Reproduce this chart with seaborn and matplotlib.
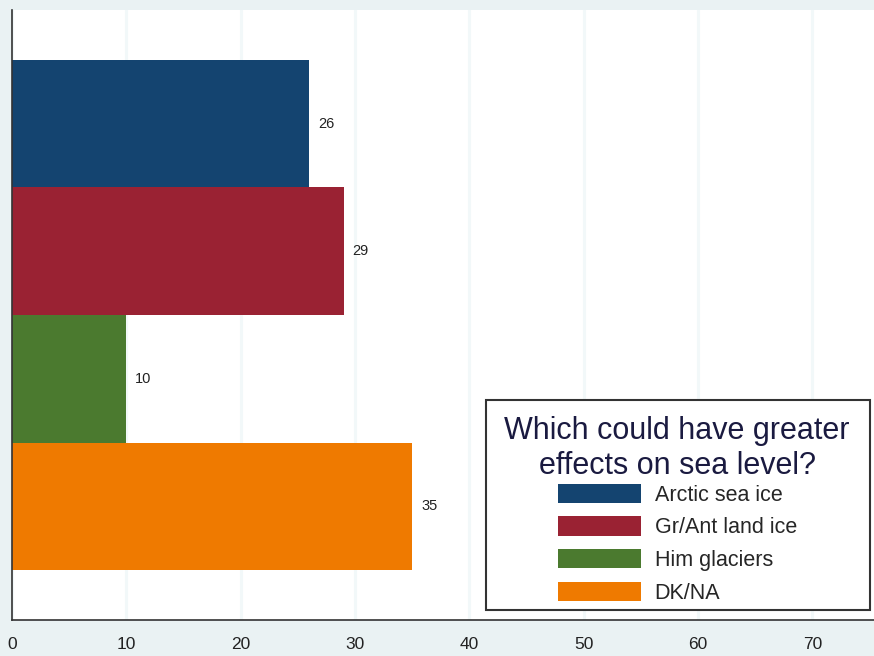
import matplotlib
matplotlib.use("Agg")
import matplotlib.pyplot as plt
import matplotlib.patches as mpatches
import seaborn as sns
import pandas as pd

categories = ["Arctic sea ice", "Gr/Ant land ice", "Him glaciers", "DK/NA"]
percents = [26, 29, 10, 35]
colors = ["#144470", "#9a2233", "#4b7a2f", "#ef7a00"]
xticks = [0, 10, 20, 30, 40, 50, 60, 70]
legend_title = "Which could have greater\neffects on sea level?"

df = pd.DataFrame({"answer": categories, "pct": percents})

sns.set_style("white")
plt.rcParams["font.family"] = ["Liberation Sans", "DejaVu Sans"]

fig = plt.figure(figsize=(8.74, 6.56), dpi=100, facecolor="#eaf2f3")
ax = fig.add_axes([12 / 874, 36 / 656, 862 / 874, 610 / 656])
ax.set_facecolor("white")

sns.barplot(data=df, x="pct", y="answer", hue="answer", palette=colors,
            order=categories, hue_order=categories, width=1.0, dodge=False,
            legend=True, saturation=1.0, linewidth=0, ax=ax)

for cont in ax.containers:
    ax.bar_label(cont, fmt="%d", padding=6.5, fontsize=10.5, color="#222222")

ax.set_xlim(0, 75.4)
ax.set_ylim(3.89, -0.89)
ax.set_xticks(xticks)
ax.set_yticks([])
ax.set_xlabel("")
ax.set_ylabel("")
ax.grid(axis="x", color="#f2f8f9", linewidth=2.2)
ax.set_axisbelow(True)
for side in ("top", "right"):
    ax.spines[side].set_visible(False)
for side in ("left", "bottom"):
    ax.spines[side].set_color("#333333")
    ax.spines[side].set_linewidth(1.2)
ax.tick_params(axis="x", length=6, width=1.2, color="#333333",
               labelsize=12.5, pad=6, labelcolor="#222222")

# legend content without its own frame; a box with wider side margins is drawn around it
leg = ax.legend(title=legend_title, loc="lower right",
                bbox_to_anchor=(850 / 874, 52 / 656),
                bbox_transform=fig.transFigure, fontsize=15.5,
                title_fontsize=22, handlelength=3.86, handleheight=1.0,
                frameon=False, borderpad=0,
                labelspacing=0.5, handletextpad=0.65, borderaxespad=0)
leg._legend_box.align = "center"
leg._legend_box.sep = 2.0
leg.get_title().set_multialignment("center")
leg.get_title().set_color("#1a1a40")
leg.set_zorder(6)

fig.canvas.draw()
bb = leg.get_window_extent().transformed(fig.transFigure.inverted())
px, py = 1 / 874, 1 / 656
frame = mpatches.Rectangle((bb.x0 - 19 * px, bb.y0 - 6 * py),
                           bb.width + 39 * px, bb.height + 22 * py,
                           transform=fig.transFigure, facecolor="white",
                           edgecolor="#333333", linewidth=1.5, zorder=5.5,
                           clip_on=False)
ax.add_patch(frame)

fig.savefig("out.png", dpi=100, facecolor=fig.get_facecolor())
